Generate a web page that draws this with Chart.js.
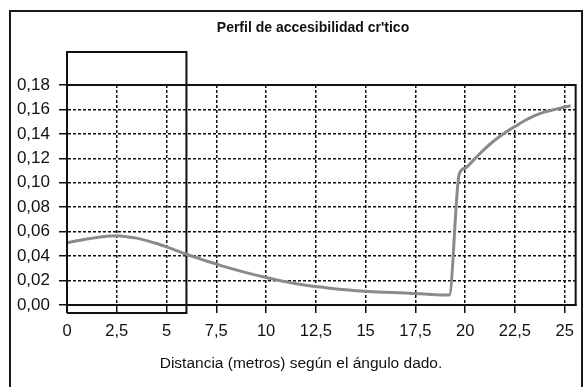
<!DOCTYPE html>
<html>
<head>
<meta charset="utf-8">
<script src="https://cdn.jsdelivr.net/npm/chart.js@4"></script>
<style>
  html, body { margin: 0; padding: 0; background: #fff; }
  body { width: 583px; height: 387px; position: relative; overflow: hidden; }
  #frame { position: absolute; left: 9px; top: 10px; width: 570px; height: 400px; border: 2px solid #1a1a1a; }
  #myChart { position: absolute; left: 0; top: 0; }
</style>
</head>
<body>
<div id="frame"></div>
<canvas id="myChart" width="583" height="387"></canvas>
<script>
const titleText = "Perfil de accesibilidad cr'tico";
const xTitleText = 'Distancia (metros) según el ángulo dado.';

// distance (m) and accessibility value
const distances = [0, 0.5, 1, 1.5, 2, 2.5, 3, 3.5, 4, 4.5, 5, 5.5, 6, 6.5, 7, 7.5, 8, 9, 10, 11, 12, 13, 14, 15, 16, 17, 17.5, 18, 18.5, 19.2, 19.7, 20, 20.5, 21, 21.5, 22, 22.5, 23, 23.5, 24, 24.5, 25, 25.3];
const accessValues = [0.051, 0.0525, 0.054, 0.0553, 0.0562, 0.0566, 0.0559, 0.0547, 0.0527, 0.0503, 0.0475, 0.0445, 0.0415, 0.0387, 0.036, 0.0335, 0.031, 0.0265, 0.0225, 0.019, 0.0162, 0.0142, 0.0125, 0.0112, 0.0104, 0.0098, 0.0095, 0.0089, 0.0084, 0.0082, 0.107, 0.112, 0.120, 0.128, 0.135, 0.141, 0.146, 0.151, 0.155, 0.158, 0.160, 0.162, 0.163];

// highlighted zone (0 - 6 m)
const zoneX = [0, 0, 6, 6, 0];
const zoneY = [-0.0066, 0.207, 0.207, -0.0066, -0.0066];

const xTicks = [0, 2.5, 5, 7.5, 10, 12.5, 15, 17.5, 20, 22.5, 25];
const yTicks = [0, 0.02, 0.04, 0.06, 0.08, 0.10, 0.12, 0.14, 0.16, 0.18];

const FONT = "'Liberation Sans', Arial, sans-serif";
const comma = (v, d) => v.toFixed(d).replace('.', ',');

const plotFrame = {
    id: 'plotFrame',
    afterDatasetsDraw(chart) {
        const { ctx, chartArea: a } = chart;
        ctx.save();
        ctx.strokeStyle = '#111';
        ctx.lineWidth = 2;
        ctx.strokeRect(a.left, a.top, a.right - a.left, a.bottom - a.top);
        ctx.restore();
    },
    afterDraw(chart) {
        const { ctx } = chart;
        ctx.save();
        ctx.fillStyle = '#111';
        ctx.textAlign = 'center';
        ctx.textBaseline = 'middle';
        ctx.font = 'bold 14px ' + FONT;
        ctx.fillText(titleText, 313, 28);
        ctx.font = '15.5px ' + FONT;
        ctx.fillText(xTitleText, 301, 364);
        ctx.restore();
    }
};

const ctx = document.getElementById('myChart');

const accessChart = new Chart(ctx, {
    type: 'line',
    data: {
        datasets: [{
            data: distances.map((d, i) => ({ x: d, y: accessValues[i] })),
            borderColor: '#8a8a8a',
            borderWidth: 3,
            pointRadius: 0,
            cubicInterpolationMode: 'monotone',
            fill: false
        }, {
            data: zoneX.map((d, i) => ({ x: d, y: zoneY[i] })),
            borderColor: '#111',
            borderWidth: 2,
            pointRadius: 0,
            tension: 0,
            clip: false,
            fill: false
        }]
    },
    options: {
        responsive: false,
        animation: false,
        layout: { padding: { top: 85, right: 6, left: 0, bottom: 0 } },
        plugins: {
            legend: { display: false },
            tooltip: { enabled: false }
        },
        scales: {
            x: {
                type: 'linear',
                min: 0,
                max: 25.55,
                afterBuildTicks: (axis) => { axis.ticks = xTicks.map(v => ({ value: v })); },
                afterFit: (axis) => { axis.height = 82; },
                grid: {
                    color: '#111',
                    lineWidth: 1.5,
                    tickLength: 8,
                    tickColor: '#111',
                    tickWidth: 1.5
                },
                border: { display: true, color: '#111', width: 2, dash: [3, 2] },
                ticks: {
                    color: '#111',
                    padding: 9,
                    maxRotation: 0,
                    font: { family: FONT, size: 16.5 },
                    callback: (v) => Number.isInteger(v) ? String(v) : comma(v, 1)
                }
            },
            y: {
                min: 0,
                max: 0.18,
                afterBuildTicks: (axis) => { axis.ticks = yTicks.map(v => ({ value: v })); },
                afterFit: (axis) => { axis.width = 67; },
                grid: {
                    color: '#111',
                    lineWidth: 1.5,
                    tickLength: 8,
                    tickColor: '#111',
                    tickWidth: 1.5
                },
                border: { display: true, color: '#111', width: 2, dash: [3, 2] },
                ticks: {
                    color: '#111',
                    padding: 9,
                    font: { family: FONT, size: 17 },
                    callback: (v) => comma(v, 2)
                }
            }
        }
    },
    plugins: [plotFrame]
});
</script>
</body>
</html>
